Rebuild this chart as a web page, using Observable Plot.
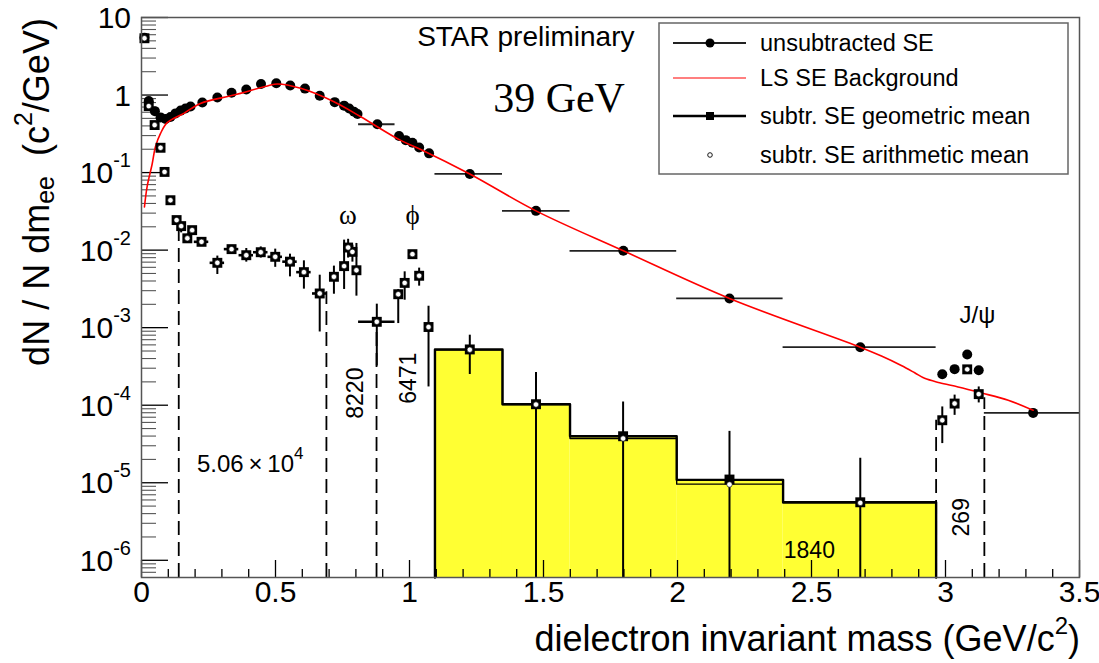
<!DOCTYPE html>
<html><head><meta charset="utf-8">
<script src="https://cdn.jsdelivr.net/npm/d3@7"></script>
<script src="https://cdn.jsdelivr.net/npm/@observablehq/plot@0.6"></script>
<style>body{margin:0;background:#fff;}</style>
</head><body><div id="chart"></div>
<script>
// ---------------- data ----------------
const unsubMass = [0.011,0.027,0.050,0.071,0.090,0.108,0.127,0.146,0.164,0.183,0.227,0.283,0.336,0.391,0.446,0.503,0.555,0.610,0.665,0.721,0.756,0.775,0.793,0.806,0.880,0.961,0.986,1.011,1.036,1.073,1.225,1.472,1.798,2.194,2.682,2.988,3.034,3.081,3.124,3.327];
const unsubVal = [5.5,0.84,0.62,0.515,0.49,0.52,0.58,0.63,0.67,0.71,0.80,0.93,1.07,1.18,1.39,1.42,1.33,1.21,0.98,0.81,0.73,0.67,0.61,0.57,0.42,0.296,0.262,0.243,0.211,0.177,0.096,0.0321,0.0098,0.00238,5.6e-4,2.51e-4,2.92e-4,4.5e-4,2.83e-4,7.96e-5];
const unsubBinLo = [null,null,null,null,null,null,null,null,null,null,null,null,null,null,null,null,null,null,null,null,null,null,null,null,0.81,null,null,null,null,null,1.095,1.347,1.599,1.997,2.394,null,null,null,null,3.145];
const unsubBinHi = [null,null,null,null,null,null,null,null,null,null,null,null,null,null,null,null,null,null,null,null,null,null,null,null,0.946,null,null,null,null,null,1.347,1.599,1.997,2.394,2.965,null,null,null,null,3.5];

const bgMass = [0.011,0.021,0.040,0.052,0.071,0.096,0.158,0.22,0.345,0.47,0.507,0.594,0.718,0.818,0.967,1.042,1.225,1.472,1.798,2.194,2.682,2.761,2.835,2.885,2.922,2.978,3.047,3.134,3.234,3.327];
const bgVal = [0.036,0.066,0.13,0.215,0.32,0.44,0.58,0.78,1.0,1.31,1.39,1.22,0.82,0.525,0.26,0.199,0.096,0.0321,0.0098,0.00238,5.6e-4,4.3e-4,3.25e-4,2.62e-4,2.22e-4,1.95e-4,1.72e-4,1.44e-4,1.16e-4,8.6e-5];

const subMass = [0.011,0.027,0.049,0.071,0.086,0.108,0.131,0.148,0.171,0.189,0.224,0.283,0.336,0.391,0.445,0.499,0.554,0.606,0.665,0.718,0.756,0.771,0.787,0.802,0.878,0.958,0.982,1.011,1.036,1.071,1.225,1.472,1.797,2.194,2.682,2.988,3.034,3.081,3.124];
const subGeo = [5.4,0.72,0.41,0.209,0.102,0.044,0.0244,0.0204,0.0142,0.0181,0.0128,0.00686,0.0103,0.0086,0.0094,0.0082,0.0071,0.0052,0.00276,0.00453,0.00622,0.0108,0.0095,0.0055,0.00119,0.0027,0.00378,0.00887,0.00467,0.00102,5.24e-4,1.03e-4,3.98e-5,1.1e-5,5.6e-6,6.4e-5,1.05e-4,2.9e-4,1.39e-4];
const subArith = [5.4,0.72,0.41,0.209,0.102,0.044,0.0244,0.0204,0.0142,0.0181,0.0128,0.00686,0.0103,0.0086,0.0094,0.0082,0.0071,0.0052,0.00276,0.00453,0.00622,0.0108,0.0095,0.0055,0.00119,0.0027,0.00378,0.00887,0.00467,0.00102,5.2e-4,1.02e-4,3.72e-5,9.5e-6,5.5e-6,6.4e-5,1.05e-4,2.9e-4,1.39e-4];
const subErrLo = [5.3,0.70,0.40,0.20,0.098,0.042,0.023,0.0167,0.0125,0.0165,0.012,0.00485,0.0092,0.0070,0.0079,0.0060,0.00452,0.00314,8.8e-4,0.0027,0.00311,0.0079,0.0070,0.00255,3.2e-4,0.00113,0.00226,0.0080,0.00343,1.72e-4,2.49e-4,1e-7,1e-7,1e-7,1e-7,3.2e-5,7.4e-5,2.7e-4,1.07e-4];
const subErrHi = [5.5,0.74,0.42,0.22,0.106,0.046,0.026,0.0225,0.016,0.0198,0.0136,0.00838,0.0115,0.0105,0.0110,0.0103,0.00887,0.00728,0.00475,0.00622,0.01346,0.0138,0.0116,0.0122,0.00201,0.0031,0.00525,0.0098,0.00586,0.00189,8.0e-4,2.64e-4,1.1e-4,4.6e-5,2.07e-5,9.5e-5,1.35e-4,3.1e-4,1.72e-4];
const subBinHalf = [0,0,0,0,0,0,0,0,0,0,0.027,0.027,0.027,0.027,0.027,0.027,0.027,0.027,0.027,0,0,0,0,0,0.068,0,0,0,0,0,0,0,0,0,0,0,0,0,0];

const histEdges = [1.095,1.347,1.599,1.997,2.394,2.965];
const histGeo = [5.24e-4,1.03e-4,3.98e-5,1.09e-5,5.6e-6];
const histArith = [5.2e-4,1.02e-4,3.72e-5,9.6e-6,5.5e-6];

const cutMass = [0.139,0.69,0.877,2.965,3.145];
const cutTop = [0.022,0.0029,0.00119,6.4e-5,1.25e-4];

const xTicks = [0,0.5,1,1.5,2,2.5,3,3.5];
const yTicks = [1e-6,1e-5,1e-4,1e-3,1e-2,1e-1,1,10];
const yTickBase = ["10","10","10","10","10","10","1","10"];
const yTickExp = ["-6","-5","-4","-3","-2","-1","",""];

const legendLabels = ["unsubtracted SE","LS SE Background","subtr. SE geometric mean","subtr. SE arithmetic mean"];

// ---------------- layout ----------------
const W = 1099, H = 663;
const mL = 141, mR = 20, mT = 17, mB = 86;
const fW = W - mL - mR, fH = H - mT - mB;
const yMin = 6e-7, yMax = 10;
const SANS = "'Liberation Sans', Arial, sans-serif";
const SERIF = "'Liberation Serif', 'Times New Roman', serif";

const unsub = unsubMass.map((m,i)=>({m, v:unsubVal[i], lo:unsubBinLo[i], hi:unsubBinHi[i]}));
const unsubWide = unsub.filter(d=>d.lo!=null);
const bg = bgMass.map((m,i)=>({m, v:bgVal[i]}));
const sub = subMass.map((m,i)=>({m, g:subGeo[i], a:subArith[i], lo:Math.max(subErrLo[i], yMin), hi:subErrHi[i], x1:m-subBinHalf[i], x2:m+subBinHalf[i], w:subBinHalf[i]}));
const subWide = sub.filter(d=>d.w>0);
const hist = histGeo.map((g,i)=>({x1:histEdges[i], x2:histEdges[i+1], g, a:histArith[i]}));
function stepPts(arr){
  const pts = [{x:histEdges[0], y:yMin}];
  hist.forEach((b,i)=>{pts.push({x:b.x1, y:arr[i]}); pts.push({x:b.x2, y:arr[i]});});
  pts.push({x:histEdges[histEdges.length-1], y:yMin});
  return pts;
}
const cuts = cutMass.map((m,i)=>({m, top:cutTop[i]}));

const xMinor = d3.range(0,36).map(i=>i/10).filter(v=>Math.abs(v*2-Math.round(v*2))>1e-6);
const yMinor = [];
for (let e=-7;e<=0;e++) for (let k=2;k<=9;k++){const v=k*Math.pow(10,e); if(v>yMin && v<yMax) yMinor.push(v);}

const notesSans = [
  {t:"STAR preliminary", m:1.434, v:5.6, s:28, r:0},
  {t:"J/\u03c8", m:3.119, v:1.45e-3, s:24, r:0},
  {t:"8220", m:0.799, v:1.43e-4, s:23, r:-90},
  {t:"6471", m:0.997, v:2.23e-4, s:23, r:-90},
  {t:"1840", m:2.492, v:1.35e-6, s:23, r:0},
  {t:"269", m:3.059, v:3.59e-6, s:23, r:-90}
];
const notesSerif = [
  {t:"39 GeV", m:1.558, v:0.914, s:42},
  {t:"\u03c9", m:0.770, v:0.0283, s:27},
  {t:"\u03d5", m:1.012, v:0.0283, s:27}
];

const chart = Plot.plot({
  width: W, height: H,
  marginLeft: mL, marginRight: mR, marginTop: mT, marginBottom: mB,
  style: {fontFamily: SANS, background: "#fff"},
  x: {domain: [0, 3.5], axis: null},
  y: {type: "log", domain: [yMin, yMax], axis: null},
  marks: [
    Plot.rect(hist, {x1:"x1", x2:"x2", y1:yMin, y2:"g", fill:"#ffff33"}),
    Plot.line(stepPts(histArith), {x:"x", y:"y", stroke:"#000", strokeWidth:1.4}),
    Plot.line(stepPts(histGeo), {x:"x", y:"y", stroke:"#000", strokeWidth:2.4}),
    Plot.ruleX(cuts, {x:"m", y1:yMin, y2:"top", stroke:"#000", strokeWidth:1.8, strokeDasharray:"14,7"}),
    // ticks
    Plot.tickX(xTicks, {x:d=>d, insetTop: fH-17, stroke:"#000", strokeWidth:1.3}),
    Plot.tickX(xMinor, {x:d=>d, insetTop: fH-8, stroke:"#000", strokeWidth:1.3}),
    Plot.tickY(yTicks, {y:d=>d, insetRight: fW-27, stroke:"#000", strokeWidth:1.3}),
    Plot.tickY(yMinor, {y:d=>d, insetRight: fW-15, stroke:"#555", strokeWidth:1.1}),
    // unsubtracted
    Plot.ruleY(unsubWide, {y:"v", x1:"lo", x2:"hi", stroke:"#222", strokeWidth:1.8}),
    Plot.dot(unsub, {x:"m", y:"v", r:5, fill:"#000"}),
    // background
    Plot.line(bg, {x:"m", y:"v", stroke:"#ff0000", strokeWidth:1.6, curve:"catmull-rom"}),
    // subtracted
    Plot.ruleX(sub, {x:"m", y1:"lo", y2:"hi", stroke:"#000", strokeWidth:2, clip:true}),
    Plot.ruleY(subWide, {y:"g", x1:"x1", x2:"x2", stroke:"#000", strokeWidth:2.6}),
    Plot.dot(sub, {x:"m", y:"g", symbol:"square", r:5.6, fill:"#000"}),
    Plot.dot(sub, {x:"m", y:"a", r:2.7, fill:"#fff", stroke:"#000", strokeWidth:0.6}),
    // x tick labels
    Plot.text(xTicks, {x:d=>d, frameAnchor:"bottom", dy:24, text:d=>String(d), fontSize:30, fill:"#000"}),
    // annotations
    Plot.text(notesSans, {x:"m", y:"v", text:"t", fontSize:"s", rotate:"r", fill:"#000"}),
    Plot.text(notesSerif, {x:"m", y:"v", text:"t", fontSize:"s", fill:"#000", fontFamily: SERIF}),
    Plot.frame({stroke:"#555", strokeWidth:1.5})
  ]
});
document.getElementById("chart").appendChild(chart);

const svg = d3.select(chart);
const ys = chart.scale("y"), xs = chart.scale("x");

// y tick labels with superscripts
yTicks.forEach((v,i)=>{
  const t = svg.append("text").attr("x", 131).attr("y", ys.apply(v))
    .attr("text-anchor","end").attr("dominant-baseline","central")
    .attr("font-family", SANS).attr("font-size", 30).attr("fill","#000");
  t.append("tspan").text(yTickBase[i]);
  if (yTickExp[i]) t.append("tspan").attr("font-size", 20).attr("dy", -12).text(yTickExp[i]);
});

// count label with exponent
{
  const t = svg.append("text").attr("x", xs.apply(0.209)).attr("y", ys.apply(1.79e-5))
    .attr("text-anchor","start").attr("dominant-baseline","central")
    .attr("font-family", SANS).attr("font-size", 24).attr("fill","#000");
  t.append("tspan").text("5.06\u2009\u00d7\u200910");
  t.append("tspan").attr("font-size", 17).attr("dy", -10).text("4");
}

// axis titles
{
  const t = svg.append("text").attr("x", 1080).attr("y", 638)
    .attr("text-anchor","end").attr("dominant-baseline","central")
    .attr("font-family", SANS).attr("font-size", 36).attr("fill","#000");
  t.append("tspan").text("dielectron invariant mass (GeV/c");
  t.append("tspan").attr("font-size", 24).attr("dy", -13).text("2");
  t.append("tspan").attr("dy", 13).text(")");
}
{
  const t = svg.append("text").attr("transform","translate(36,192) rotate(-90)")
    .attr("text-anchor","middle").attr("dominant-baseline","central")
    .attr("font-family", SANS).attr("font-size", 36).attr("fill","#000");
  t.append("tspan").text("dN / N dm");
  t.append("tspan").attr("font-size", 25).attr("dy", 9).text("ee");
  t.append("tspan").attr("dy", -9).text("\u00a0\u00a0(c");
  t.append("tspan").attr("font-size", 25).attr("dy", -13).text("2");
  t.append("tspan").attr("dy", 13).text("/GeV)");
}

// legend
{
  const g = svg.append("g");
  g.append("rect").attr("x",659).attr("y",23).attr("width",409).attr("height",151)
    .attr("fill","#fff").attr("stroke","#666").attr("stroke-width",1.5);
  const rows = [43, 78, 116, 155];
  g.append("line").attr("x1",673).attr("x2",746).attr("y1",rows[0]).attr("y2",rows[0]).attr("stroke","#222").attr("stroke-width",2);
  g.append("circle").attr("cx",710).attr("cy",rows[0]).attr("r",4.5).attr("fill","#000");
  g.append("line").attr("x1",673).attr("x2",746).attr("y1",rows[1]).attr("y2",rows[1]).attr("stroke","#ff0000").attr("stroke-width",1.2);
  g.append("line").attr("x1",673).attr("x2",746).attr("y1",rows[2]).attr("y2",rows[2]).attr("stroke","#000").attr("stroke-width",2.5);
  g.append("rect").attr("x",706).attr("y",rows[2]-4).attr("width",8).attr("height",8).attr("fill","#000");
  g.append("circle").attr("cx",710).attr("cy",rows[3]).attr("r",2.3).attr("fill","#fff").attr("stroke","#000").attr("stroke-width",0.9);
  legendLabels.forEach((s,i)=>{
    g.append("text").attr("x",760).attr("y",rows[i]).attr("text-anchor","start").attr("dominant-baseline","central")
      .attr("font-family",SANS).attr("font-size",23.5).attr("fill","#000").text(s);
  });
}
</script>
</body></html>
